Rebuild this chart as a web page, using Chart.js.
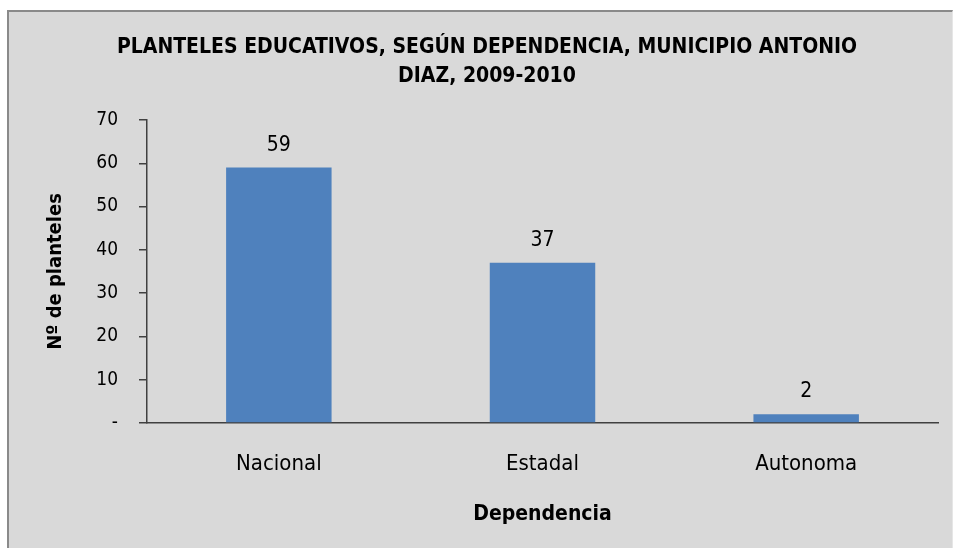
<!DOCTYPE html>
<html>
<head>
<meta charset="utf-8">
<script src="https://cdn.jsdelivr.net/npm/chart.js@4/dist/chart.umd.min.js"></script>
<style>
  html, body { margin: 0; padding: 0; background: #ffffff; overflow: hidden; }
  #frame { position: absolute; left: 7px; top: 10px; width: 943px; height: 560px;
           background: #d9d9d9; border-left: 2px solid #8a8a8a; border-top: 2px solid #8a8a8a;
           border-right: 1px solid #e6e6e6; }
  #wrap { position: absolute; left: 0; top: 0; width: 953px; height: 548px; }
</style>
</head>
<body>
<div id="frame"></div>
<div id="wrap"><canvas id="c" width="953" height="548"></canvas></div>
<script>
const categories = ['Nacional', 'Estadal', 'Autonoma'];
const planteles = [59, 37, 2];
const yTicks = [0, 10, 20, 30, 40, 50, 60, 70];
const titleLines = ['PLANTELES EDUCATIVOS, SEGÚN DEPENDENCIA, MUNICIPIO ANTONIO', 'DIAZ, 2009-2010'];
const xTitle = 'Dependencia';
const yTitle = 'Nº de planteles';

const FAM = "'DejaVu Sans Condensed', 'Liberation Sans Narrow', sans-serif";

const valueLabels = {
  id: 'valueLabels',
  afterDatasetsDraw(chart) {
    const ctx = chart.ctx;
    const meta = chart.getDatasetMeta(0);
    ctx.save();
    ctx.font = '21px ' + FAM;
    ctx.fillStyle = '#000';
    ctx.textAlign = 'center';
    ctx.textBaseline = 'alphabetic';
    meta.data.forEach((bar, i) => {
      ctx.fillText(String(chart.data.datasets[0].data[i]), bar.x, bar.y - 17);
    });
    ctx.restore();
  }
};

new Chart(document.getElementById('c'), {
  type: 'bar',
  data: {
    labels: categories,
    datasets: [{
      data: planteles,
      backgroundColor: '#4f81bd',
      borderWidth: 0,
      barPercentage: 0.4,
      categoryPercentage: 1.0
    }]
  },
  options: {
    responsive: false,
    animation: false,
    devicePixelRatio: 1,
    layout: { padding: { left: 36, right: 15, top: 0, bottom: 0 } },
    plugins: {
      legend: { display: false },
      tooltip: { enabled: false },
      title: {
        display: true,
        text: titleLines,
        color: '#000',
        font: { family: FAM, size: 21, weight: 'bold', lineHeight: 1.38 },
        padding: { top: 33, bottom: 29 }
      }
    },
    scales: {
      x: {
        offset: true,
        afterFit(scale) { scale.height = 125; },
        grid: { display: true, drawOnChartArea: false, drawTicks: false, tickLength: 0 },
        border: { display: true, color: '#404040', width: 1.5 },
        ticks: { color: '#000', font: { family: FAM, size: 22 }, padding: 28 },
        title: { display: true, text: xTitle, color: '#000',
                 font: { family: FAM, size: 21, weight: 'bold', lineHeight: 1.2 },
                 padding: { top: 10, bottom: 21 } }
      },
      y: {
        min: 0, max: 70,
        afterBuildTicks(scale) { scale.ticks = yTicks.map(v => ({ value: v })); },
        afterFit(scale) { scale.width = 111; },
        grid: { display: true, drawOnChartArea: false, drawTicks: true, tickLength: 8, color: '#404040', lineWidth: 1.5 },
        border: { display: true, color: '#404040', width: 1.5 },
        ticks: { color: '#000', font: { family: FAM, size: 19 }, padding: 21,
                 callback: (v) => v === 0 ? '-' : String(v) },
        title: { display: true, text: yTitle, color: '#000',
                 font: { family: FAM, size: 20, weight: 'bold', lineHeight: 1.2 },
                 padding: { top: 8, bottom: 0 } }
      }
    }
  },
  plugins: [valueLabels]
});
</script>
</body>
</html>
